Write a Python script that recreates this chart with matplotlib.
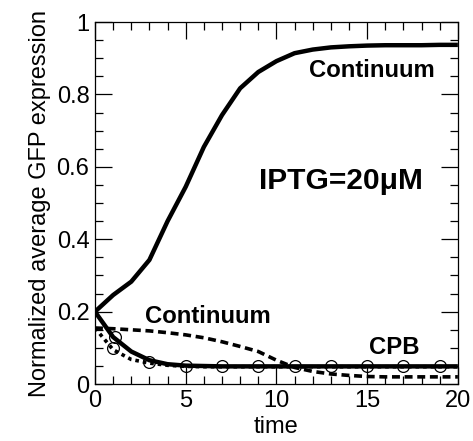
import matplotlib
matplotlib.use("Agg")
import matplotlib.pyplot as plt
from matplotlib.ticker import MultipleLocator

plt.rcParams['font.family'] = ['Liberation Sans', 'DejaVu Sans']

t = list(range(21))
cont_up = [0.2, 0.246, 0.283, 0.343, 0.45, 0.545, 0.655, 0.743, 0.817, 0.862, 0.892,
           0.914, 0.924, 0.93, 0.933, 0.935, 0.936, 0.936, 0.936, 0.937, 0.937]
cpb_solid = [0.2, 0.13, 0.09, 0.066, 0.055, 0.051, 0.05, 0.049, 0.049, 0.049, 0.049,
             0.049, 0.049, 0.049, 0.049, 0.049, 0.049, 0.049, 0.049, 0.049, 0.049]
cont_dashed = [0.155, 0.153, 0.15, 0.147, 0.142, 0.136, 0.128, 0.117, 0.104, 0.09, 0.066,
               0.046, 0.035, 0.028, 0.024, 0.021, 0.02, 0.02, 0.02, 0.02, 0.02]
cpb_dotted = [0.155, 0.095, 0.068, 0.058, 0.052, 0.049, 0.048, 0.048, 0.048, 0.048, 0.048,
              0.048, 0.048, 0.048, 0.048, 0.048, 0.048, 0.048, 0.048, 0.048, 0.048]
circ_t = [1.1, 1.0, 3, 5, 7, 9, 11, 13, 15, 17, 19]
circ_y = [0.131, 0.1, 0.062, 0.05, 0.049, 0.049, 0.049, 0.05, 0.05, 0.05, 0.05]

fig = plt.figure(figsize=(4.73, 4.41), dpi=100)
ax = fig.add_axes([0.2008, 0.129, 0.7672, 0.821])

ax.plot(t, cpb_dotted, color='black', lw=2.6, linestyle=(0, (1, 1.1)))
ax.plot(t, cont_dashed, color='black', lw=2.6, linestyle=(0, (2.2, 1.3)))
ax.plot(circ_t, circ_y, linestyle='none', marker='o', ms=8.5, mfc='none', mec='black', mew=0.9)
ax.plot(t, cont_up, color='black', lw=3.2, solid_capstyle='butt')
ax.plot(t, cpb_solid, color='black', lw=3.2, solid_capstyle='butt')

ax.set_xlim(0, 20)
ax.set_ylim(0, 1)
ax.xaxis.set_minor_locator(MultipleLocator(1))
ax.yaxis.set_minor_locator(MultipleLocator(0.05))
ax.set_yticks([0, 0.2, 0.4, 0.6, 0.8, 1.0])
ax.set_yticklabels(['0', '0.2', '0.4', '0.6', '0.8', '1'])
ax.set_xticks([0, 5, 10, 15, 20])
ax.set_xticklabels(['0', '5', '10', '15', '20'])
ax.tick_params(which='both', direction='in', top=True, right=True, width=0.9, labelsize=17)
ax.tick_params(which='major', length=12, pad=4)
ax.tick_params(which='minor', length=6)
for s in ax.spines.values():
    s.set_linewidth(0.9)

ax.set_xlabel('time', fontsize=17, labelpad=3)
ax.set_ylabel('Normalized average GFP expression', fontsize=17, labelpad=4)

ax.text(15.25, 0.865, 'Continuum', fontsize=17.2, fontweight='bold', ha='center', va='center')
ax.text(13.55, 0.56, 'IPTG=20\u03bcM', fontsize=21.5, fontweight='bold', ha='center', va='center')
ax.text(6.2, 0.188, 'Continuum', fontsize=17.2, fontweight='bold', ha='center', va='center')
ax.text(16.5, 0.1, 'CPB', fontsize=17.2, fontweight='bold', ha='center', va='center')

fig.savefig('out.png', dpi=100)
